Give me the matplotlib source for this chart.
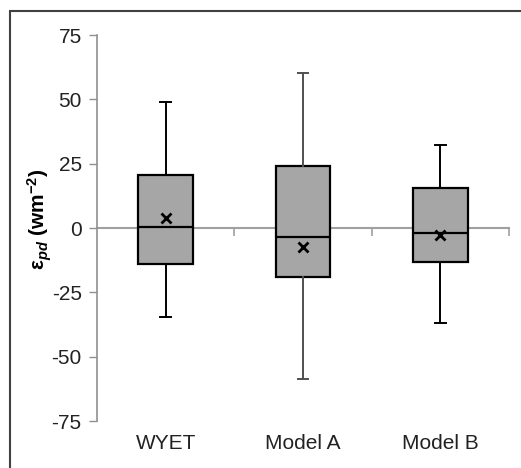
import matplotlib
matplotlib.use("Agg")
import matplotlib.pyplot as plt
import matplotlib.patches as mpatches
from matplotlib.transforms import blended_transform_factory

plt.rcParams['font.family'] = ['Liberation Sans', 'DejaVu Sans']
plt.rcParams['axes.unicode_minus'] = False
plt.rcParams['mathtext.fontset'] = 'custom'
plt.rcParams['mathtext.rm'] = 'Liberation Sans'
plt.rcParams['mathtext.it'] = 'Liberation Sans:italic'
plt.rcParams['mathtext.bf'] = 'Liberation Sans:bold'
plt.rcParams['mathtext.bfit'] = 'Liberation Sans:bold:italic'

models = ["WYET", "Model A", "Model B"]
whisker_lo = [-34.7, -58.6, -37.0]
q1 = [-14.1, -19.0, -13.1]
median = [0.4, -3.5, -2.1]
q3 = [20.6, 24.2, 15.7]
whisker_hi = [49.0, 60.1, 32.1]
mean = [3.9, -7.3, -2.8]
whisker_colors = ["black", "#505050", "black"]

fig = plt.figure(figsize=(5.21, 4.68), dpi=100)
ax = fig.add_axes([97 / 521, 1 - 421 / 468, 412 / 521, 386 / 468])

stats = []
for i, name in enumerate(models):
    stats.append(dict(label=name, whislo=whisker_lo[i], q1=q1[i], med=median[i],
                      q3=q3[i], whishi=whisker_hi[i], mean=mean[i]))

positions = list(range(1, len(models) + 1))
bp = ax.bxp(stats, positions=positions, widths=0.4, patch_artist=True,
            showmeans=False, showfliers=False,
            boxprops=dict(facecolor="#a6a6a6", edgecolor="black", linewidth=1.6),
            medianprops=dict(color="black", linewidth=1.6),
            whiskerprops=dict(linewidth=1.4),
            capprops=dict(linewidth=1.4),
            capwidths=0.08, zorder=3)
for i, c in enumerate(whisker_colors):
    for art in bp['whiskers'][2 * i:2 * i + 2] + bp['caps'][2 * i:2 * i + 2]:
        art.set_color(c)

ax.plot(positions, mean, linestyle="none", marker="x", color="black",
        markersize=7, markeredgewidth=2, zorder=4)

ax.set_xlim(0.5, 3.5)
ax.set_ylim(-75, 75)
ax.set_yticks([-75, -50, -25, 0, 25, 50, 75])
ax.tick_params(axis='y', direction='out', length=6, width=1, color="#909090",
               labelsize=15, labelcolor="#222222", pad=5)

for s in ['top', 'right']:
    ax.spines[s].set_visible(False)
ax.spines['left'].set_color("#909090")
ax.spines['left'].set_linewidth(1.2)
ax.spines['bottom'].set_position(('data', 0))
ax.spines['bottom'].set_color("#a0a0a0")
ax.spines['bottom'].set_linewidth(1.5)
ax.spines['bottom'].set_zorder(2)
ax.set_xticks([1.5, 2.5, 3.5])
ax.tick_params(axis='x', direction='out', length=6, width=1.2, color="#a0a0a0",
               labelbottom=False)

trans = blended_transform_factory(ax.transData, ax.transAxes)
for p, name in zip(positions, models):
    ax.text(p, -0.058, name, transform=trans, ha='center', va='center',
            fontsize=15, color="#222222")

fig.text(40 / 521, 1 - 219 / 468, r"$\boldsymbol{\varepsilon}_{\mathbfit{pd}}$ (wm$^{\mathbf{-2}}$)",
         rotation=90, ha='center', va='center', fontsize=15, fontweight='bold')

fig.patches.append(mpatches.Rectangle((10 / 521, -0.5), 2, 1.5 - 11 / 468,
                                      transform=fig.transFigure, fill=False,
                                      edgecolor="#404040", linewidth=1.5))

fig.savefig("out.png", dpi=100)
